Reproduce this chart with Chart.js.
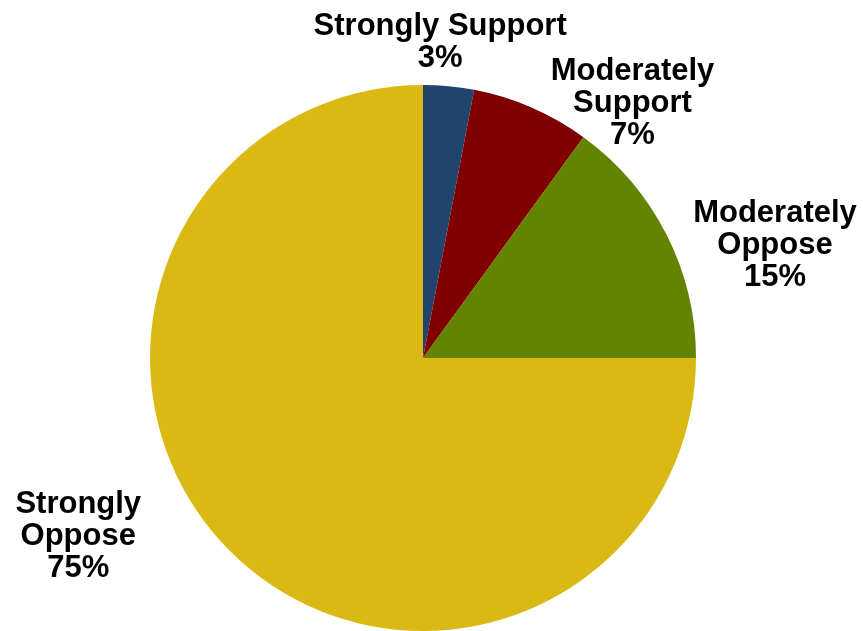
<!DOCTYPE html>
<html>
<head>
<meta charset="utf-8">
<script src="https://cdn.jsdelivr.net/npm/chart.js@4"></script>
<style>
  html, body { margin: 0; padding: 0; background: #ffffff; }
  #wrap { width: 863px; height: 631px; position: relative; }
</style>
</head>
<body>
<div id="wrap"><canvas id="pieChart"></canvas></div>
<script>
// chart data
const categories = ['Strongly Support', 'Moderately Support', 'Moderately Oppose', 'Strongly Oppose'];
const shares = [3, 7, 15, 75];
const sliceColors = ['#20446e', '#800000', '#638400', '#dbb914'];

// label placement relative to each slice (angle shift in degrees, distance in radii)
const labelPlace = [
    { shift: -2.2, dist: 1.126 },
    { shift: 17.0, dist: 1.184 },
    { shift: 10.6, dist: 1.344 },
    { shift: 16.5, dist: 1.437 }
];

// break long category names onto lines like the original
function labelLines(name, i) {
    if (i === 0) return [name, shares[i] + '%'];
    return name.split(' ').concat([shares[i] + '%']);
}

const outsideLabels = {
    id: 'outsideLabels',
    afterDatasetsDraw(chart) {
        const ctx = chart.ctx;
        const meta = chart.getDatasetMeta(0);
        ctx.save();
        ctx.font = 'bold 31px "Liberation Sans", Arial, sans-serif';
        ctx.fillStyle = '#000000';
        ctx.textAlign = 'center';
        ctx.textBaseline = 'alphabetic';
        const lineH = 32;
        meta.data.forEach(function(arc, i) {
            const p = arc.getProps(['x', 'y', 'startAngle', 'endAngle', 'outerRadius'], true);
            const mid = (p.startAngle + p.endAngle) / 2 + labelPlace[i].shift * Math.PI / 180;
            const d = p.outerRadius * labelPlace[i].dist;
            const cx = p.x + Math.cos(mid) * d;
            const cy = p.y + Math.sin(mid) * d;
            const lines = labelLines(categories[i], i);
            const first = cy - (lines.length - 1) * lineH / 2;
            lines.forEach(function(line, j) {
                ctx.fillText(line, cx, first + j * lineH);
            });
        });
        ctx.restore();
    }
};

const canvasEl = document.getElementById('pieChart');
canvasEl.setAttribute('role', 'img');
canvasEl.setAttribute('aria-label', 'Pie chart of support and opposition');

new Chart(canvasEl.getContext('2d'), {
    type: 'pie',
    data: {
        labels: categories,
        datasets: [{
            data: shares,
            backgroundColor: sliceColors,
            borderWidth: 0
        }]
    },
    options: {
        responsive: true,
        maintainAspectRatio: false,
        animation: false,
        layout: { padding: { top: 85, bottom: 0, left: 150, right: 167 } },
        plugins: {
            legend: { display: false },
            tooltip: { enabled: false }
        }
    },
    plugins: [outsideLabels]
});
</script>
</body>
</html>
